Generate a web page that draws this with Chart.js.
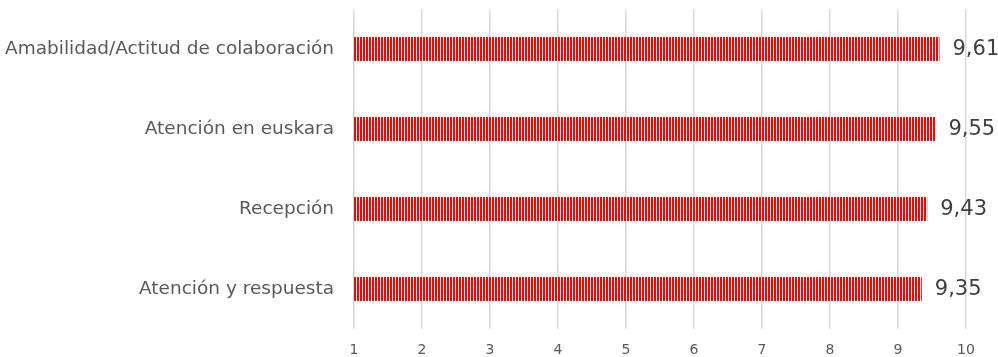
<!DOCTYPE html>
<html>
<head>
<meta charset="utf-8">
<script src="https://cdn.jsdelivr.net/npm/chart.js@4/dist/chart.umd.min.js"></script>
<style>
  html, body { margin: 0; padding: 0; background: #fff; }
  #wrap { width: 998px; height: 357px; }
</style>
</head>
<body>
<div id="wrap"><canvas id="satChart"></canvas></div>
<script>
// chart data
const categories = [
    'Amabilidad/Actitud de colaboración',
    'Atención en euskara',
    'Recepción',
    'Atención y respuesta'
];
const scores = [9.61, 9.55, 9.43, 9.35];
const axisMin = 1;
const axisMax = 10;

// red / white vertical stripes like the original fill
function stripePattern() {
    const c = document.createElement('canvas');
    c.width = 3;
    c.height = 4;
    const g = c.getContext('2d');
    g.fillStyle = '#ffffff';
    g.fillRect(0, 0, 3, 4);
    g.fillStyle = '#ff0000';
    g.fillRect(0, 0, 2, 4);
    return g.createPattern(c, 'repeat');
}

// value labels at the end of each bar, decimal comma
const valueLabels = {
    id: 'valueLabels',
    afterDatasetsDraw(chart) {
        const ctx = chart.ctx;
        const meta = chart.getDatasetMeta(0);
        ctx.save();
        ctx.font = '21px "DejaVu Sans"';
        ctx.fillStyle = '#404040';
        ctx.textAlign = 'left';
        ctx.textBaseline = 'middle';
        meta.data.forEach((bar, i) => {
            const txt = scores[i].toFixed(2).replace('.', ',');
            ctx.fillText(txt, bar.x + 13, bar.y + 1);
        });
        ctx.restore();
    }
};

const ctx = document.getElementById('satChart').getContext('2d');

const satChart = new Chart(ctx, {
    type: 'bar',
    data: {
        labels: categories,
        datasets: [{
            data: scores,
            backgroundColor: stripePattern(),
            borderWidth: 0,
            categoryPercentage: 0.6,
            barPercentage: 0.5
        }]
    },
    options: {
        indexAxis: 'y',
        responsive: true,
        maintainAspectRatio: false,
        animation: false,
        layout: {
            padding: { top: 9, right: 32, bottom: 0, left: 5 }
        },
        plugins: {
            legend: { display: false },
            tooltip: { enabled: false }
        },
        scales: {
            x: {
                min: axisMin,
                max: axisMax,
                afterFit(scale) {
                    scale.height = 28; // keep the plot bottom near y=329
                },
                ticks: {
                    stepSize: 1,
                    color: '#595959',
                    font: { family: '"DejaVu Sans"', size: 14 },
                    padding: 13
                },
                grid: {
                    color: '#d9d9d9',
                    lineWidth: 1.5,
                    drawTicks: false
                },
                border: { display: false }
            },
            y: {
                ticks: {
                    color: '#595959',
                    // tiny lineHeight so the labels don't pad the plot top/bottom
                    font: { family: '"DejaVu Sans"', size: 18.5, lineHeight: 0.1 },
                    padding: 0
                },
                // invisible tick marks give the gap between labels and bars
                grid: {
                    drawOnChartArea: false,
                    drawTicks: true,
                    tickLength: 20,
                    color: 'rgba(0,0,0,0)'
                },
                border: { display: false }
            }
        }
    },
    plugins: [valueLabels]
});
</script>
</body>
</html>
